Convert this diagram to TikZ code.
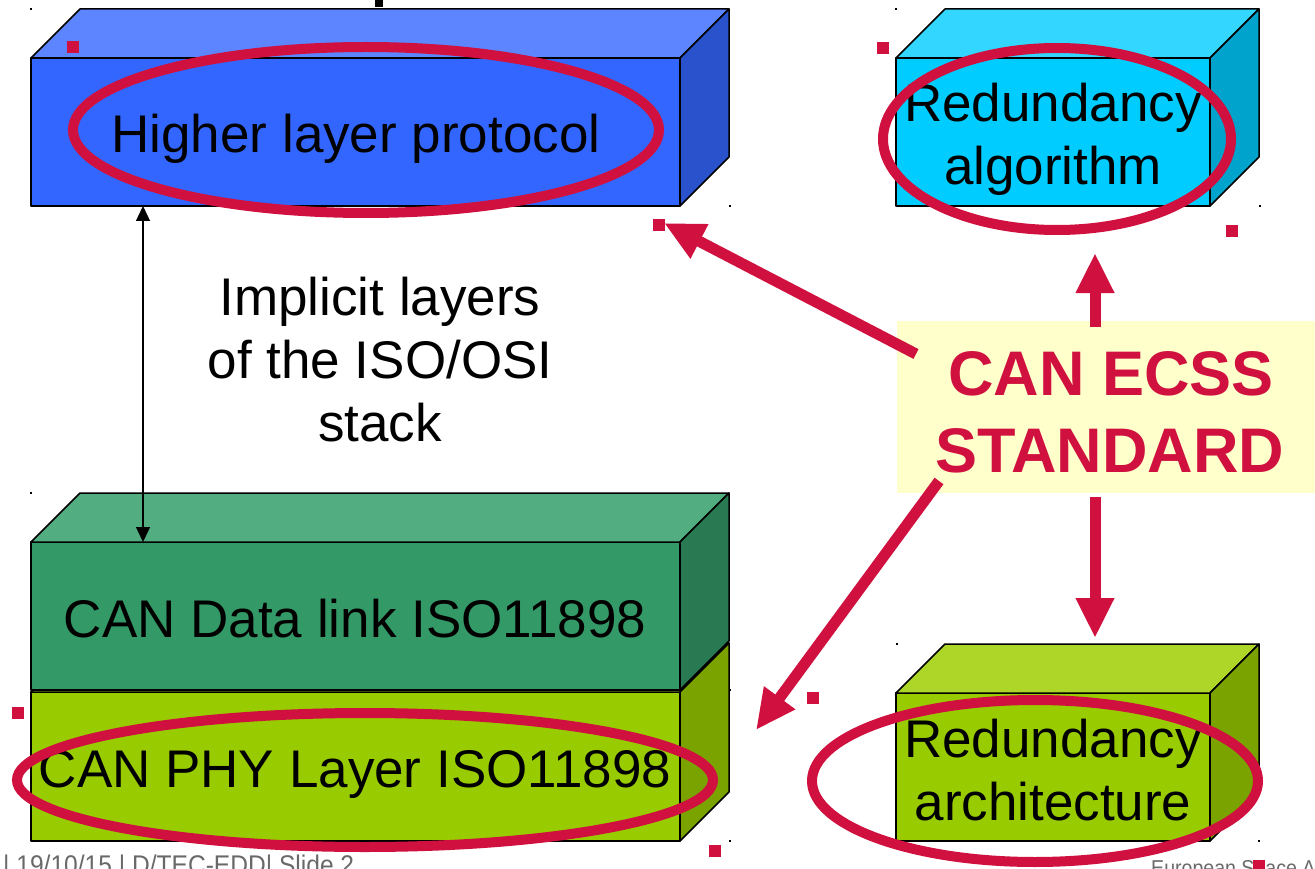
\documentclass[tikz,border=0pt]{standalone}
\usepackage{fontspec}
\setmainfont{Liberation Sans}
\newfontfamily\footfont[FakeStretch=0.91]{Liberation Sans}
\usetikzlibrary{arrows.meta}
\definecolor{blueF}{RGB}{51,102,255}
\definecolor{blueT}{RGB}{92,133,255}
\definecolor{blueS}{RGB}{41,82,204}
\definecolor{cyanF}{RGB}{0,204,255}
\definecolor{cyanT}{RGB}{51,214,255}
\definecolor{cyanS}{RGB}{0,163,204}
\definecolor{greenF}{RGB}{51,153,102}
\definecolor{greenT}{RGB}{82,173,128}
\definecolor{greenS}{RGB}{41,122,82}
\definecolor{limeF}{RGB}{153,204,0}
\definecolor{limeT}{RGB}{173,214,41}
\definecolor{limeS}{RGB}{122,163,0}
\definecolor{crim}{RGB}{208,16,62}
\definecolor{paleY}{RGB}{255,255,204}
\definecolor{footgrey}{RGB}{105,105,105}
\tikzset{
  face/.style={draw=black, line width=1.5pt, line join=round},
  frontface/.style={face, rectangle, inner sep=0pt, outer sep=0pt},
  lbl/.style={inner sep=0pt, text=black, font=\fontsize{53}{63}\selectfont},
  stdtxt/.style={inner sep=0pt, text=crim, font=\bfseries\fontsize{63}{77}\selectfont},
  ring/.style={draw=crim, line width=10pt},
  redarrow/.style={draw=crim, line width=11pt, -{Triangle[length=40pt,width=36pt]}},
  dblarrow/.style={draw=black, line width=1.3pt, {Triangle[length=15pt,width=14pt]}-{Triangle[length=15pt,width=14pt]}},
  sq/.style={fill=crim, inner sep=0pt, minimum size=12pt},
  dot/.style={fill=black, inner sep=0pt, minimum size=2.2pt},
  footer/.style={inner sep=0pt, text=footgrey, font=\footfont\fontsize{27}{30}\selectfont},
  footersmall/.style={inner sep=0pt, text=footgrey, font=\footfont\fontsize{21.5}{24}\selectfont}
}
% #1 name, #2 centre x, #3 centre y, #4 width, #5 height, #6 front, #7 top, #8 side
\newcommand\mkcuboid[8]{%
  \node[frontface, fill=#6, minimum width=#4pt, minimum height=#5pt] (#1) at (#2,#3) {};
  \draw[face, fill=#7] (#1.north west) -- ++(49,-49) -- ++(#4,0) -- (#1.north east) -- cycle;
  \draw[face, fill=#8] (#1.north east) -- ++(49,-49) -- ++(0,#5) -- (#1.south east) -- cycle;
}
\begin{document}
\begin{tikzpicture}[x=1pt,y=-1pt]
\useasboundingbox (0,0) rectangle (1315,869);
\clip (0,0) rectangle (1315,869);
\fill[white] (0,0) rectangle (1315,869);

% fragment of title glyph at top
\fill[black] (375,0) rectangle (383,7);

% cuboids
\mkcuboid{hlp}{355.5}{132}{649}{148}{blueF}{blueT}{blueS}
\mkcuboid{alg}{1053}{132}{314}{148}{cyanF}{cyanT}{cyanS}
\mkcuboid{phy}{355.5}{766.5}{649}{149}{limeF}{limeT}{limeS}
\mkcuboid{dl}{355.5}{616}{649}{148}{greenF}{greenT}{greenS}
\mkcuboid{arch}{1053}{767}{314}{148}{limeF}{limeT}{limeS}

% selection dots
\node[dot] (d1) at (31,9) {};
\node[dot] (d2) at (730,206) {};
\node[dot] (d3) at (896,9) {};
\node[dot] (d4) at (1260,206) {};
\node[dot] (d5) at (31,493) {};
\node[dot] (d6) at (730,690) {};
\node[dot] (d7) at (730,841) {};
\node[dot] (d8) at (897,644) {};
\node[dot] (d9) at (1259,841) {};

% black double arrow
\draw[dblarrow] ([xshift=112pt]hlp.south west) -- ([xshift=112pt]dl.north west);

% labels
\node[lbl, anchor=base] (thlp) at (356,153) {Higher layer protocol};
\node[lbl, anchor=base] (talg1) at (1053,122) {Redundancy};
\node[lbl, anchor=base] (talg2) at (1053,185) {algorithm};
\node[lbl, anchor=base] (tdl) at (355,637) {CAN Data link ISO11898};
\node[lbl, anchor=base] (tphy) at (355,787) {CAN PHY Layer ISO11898};
\node[lbl, anchor=base] (tarch1) at (1053,757) {Redundancy};
\node[lbl, anchor=base] (tarch2) at (1053,820) {architecture};
\node[lbl, anchor=base] (imp1) at (380,315) {Implicit layers};
\node[lbl, anchor=base] (imp2) at (380,378) {of the ISO/OSI};
\node[lbl, anchor=base] (imp3) at (380,441) {stack};

% red rings
\draw[ring] (366,130) ellipse [x radius=293, y radius=83];
\draw[ring] (1057,139) ellipse [x radius=174, y radius=91];
\draw[ring] (365,780) ellipse [x radius=348, y radius=67];
\draw[ring] (1035,781) ellipse [x radius=223, y radius=81];

% standard box
\node[fill=paleY, inner sep=0pt, minimum width=418pt, minimum height=172pt] (std) at (1106,407) {};
\node[stdtxt, anchor=base] (std1) at (1111,395) {CAN ECSS};
\node[stdtxt, anchor=base] (std2) at (1110,472) {STANDARD};

% red arrows
\coordinate (a1s) at (916,354);
\coordinate (a1e) at (664,223);
\coordinate (a2s) at (1095,327);
\coordinate (a2e) at (1095,253);
\coordinate (a3s) at (1095,497);
\coordinate (a3e) at (1095,638);
\coordinate (a4s) at (939,481);
\coordinate (a4e) at (756,730);
\draw[redarrow] (a1s) -- (a1e);
\draw[redarrow] (a2s) -- (a2e);
\draw[redarrow] (a3s) -- (a3e);
\draw[redarrow] (a4s) -- (a4e);

% red selection squares
\node[sq] (s1) at (73,47) {};
\node[sq] (s2) at (883,48) {};
\node[sq] (s3) at (659,225) {};
\node[sq] (s4) at (1232,231) {};
\node[sq] (s5) at (18,713) {};
\node[sq] (s6) at (813,698) {};
\node[sq] (s7) at (715,851) {};

% footer (cut off by the slide edge, as in the reference)
\node[footer, anchor=base west] (f1) at (3,874) {| 19/10/15 | D/TEC-EDD| Slide 2};
\node[footersmall, anchor=base west] (f2) at (1151,875) {European Space Agency};
\node[sq] (s8) at (1259,866) {};
\end{tikzpicture}
\end{document}
